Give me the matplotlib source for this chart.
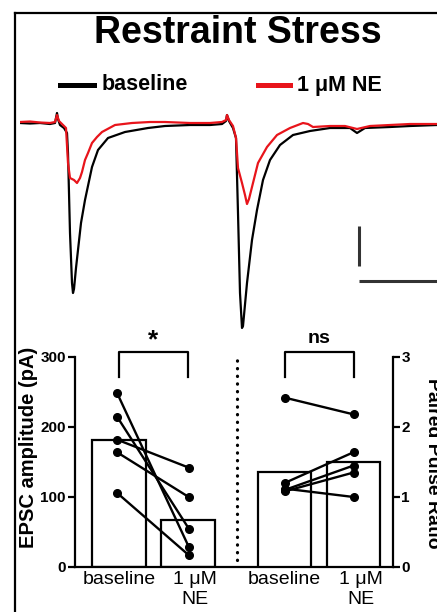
import numpy as np
import matplotlib
matplotlib.use("Agg")
import matplotlib.pyplot as plt
import matplotlib.transforms as mtransforms
from matplotlib.lines import Line2D

plt.rcParams['font.family'] = ['Liberation Sans', 'DejaVu Sans']

# ---- example traces (time in ms, current in pA relative to baseline)
t_base = [0, 2.5, 5, 7.5, 8.75, 9.25, 9.5, 10, 11, 11.75, 12, 12.5, 13, 13.25, 13.5,
          14, 14.5, 15.25, 16.25, 18, 19.5, 22, 26.25, 32, 36.25, 42.5, 47.5, 50.5,
          51.5, 51.75, 52.25, 53.25, 54, 54.5, 55, 55.5, 55.75, 56.75, 58, 59.25,
          60.75, 62.5, 65, 68.25, 72.5, 77.5, 82.5, 84.25, 86.25, 92.5, 97.5, 104.25, 107.5]
i_base = [0, -0.5, 0, -1, 0, 10, 4, -2, -5, -10, -30, -110, -160, -170, -166,
          -145, -127, -100, -77, -44, -27, -15, -9, -5, -3, -2, -2, -1,
          2, 8, 2, -5, -15, -90, -170, -205, -203, -160, -117, -87,
          -57, -37, -22, -12, -8, -5, -5, -10, -5, -4, -3, -2, -2]

t_ne = [0, 2.5, 5, 7.5, 8.75, 9.25, 9.75, 10.5, 11.5, 12, 12.5, 13.5, 14.25, 15,
        15.5, 16.25, 17, 18, 19.25, 20.5, 23.75, 28, 32.5, 36.25, 42.5, 47.5, 50.5,
        51.5, 51.75, 52.25, 53.25, 54, 54.5, 55.5, 56.25, 56.75, 57.25, 58, 59.5,
        61.75, 64.25, 67.5, 70.75, 72, 73.25, 77.5, 81.25, 84.25, 87.5, 92.5, 97.5,
        104.25, 107.5]
i_ne = [1, 1.5, 0.5, 0, 1, 8, 2, -1, -5, -40, -55, -57, -60, -55,
        -49, -37, -30, -20, -14, -9, -2, 0, 1, 1, 0, 0, 1,
        3, 8, 3, -3, -15, -45, -60, -72, -81, -76, -64, -40,
        -24, -12, -5, 0, -1, -4, -3, -3, -6, -3, -2, -1,
        -1, -1]

# scale bar (pA, ms)
sb_t = 84.75
sb_i0 = -103
sb_pa = 40
sb_ms = 25

# ---- summary data
groups = ['baseline', '1 μM\nNE', 'baseline', '1 μM\nNE']
xpos = [0, 1, 2.4, 3.4]
epsc_bar = [182, 67]
epsc_base = [249, 215, 182, 164, 106]
epsc_ne = [29, 55, 142, 100, 17]
ppr_bar = [1.36, 1.50]
ppr_base = [2.42, 1.20, 1.10, 1.08, 1.12]
ppr_ne = [2.18, 1.64, 1.45, 1.35, 1.00]

W, H = 437, 612
fig = plt.figure(figsize=(W / 100, H / 100), dpi=100)


def rect(x0, y0, x1, y1):
    return [x0 / W, 1 - y1 / H, (x1 - x0) / W, (y1 - y0) / H]


# frame
fig.add_artist(Line2D([15 / W, 15 / W], [0, 1 - 13 / H], color='black', lw=1.6))
fig.add_artist(Line2D([15 / W, 1.01], [1 - 13 / H, 1 - 13 / H], color='black', lw=1.6))

fig.text(238 / W, 1 - 33 / H, 'Restraint Stress', ha='center', va='center',
         fontsize=27, fontweight='bold')

# legend
fig.add_artist(Line2D([60 / W, 94 / W], [1 - 85 / H] * 2, color='black', lw=3.6))
fig.text(102 / W, 1 - 85 / H, 'baseline', ha='left', va='center', fontsize=15.5,
         fontweight='bold')
fig.add_artist(Line2D([258 / W, 290 / W], [1 - 85 / H] * 2, color='#e8141b', lw=3.6))
fig.text(297 / W, 1 - 85 / H, '1 μM NE', ha='left', va='center', fontsize=15.5,
         fontweight='bold')

# traces
axt = fig.add_axes(rect(20, 100, 437, 340))
axt.plot(t_base, i_base, color='black', lw=1.6)
axt.plot(t_ne, i_ne, color='#e8141b', lw=1.6)
axt.plot([sb_t, sb_t], [sb_i0, sb_i0 - sb_pa], color='#333333', lw=2.2,
         solid_capstyle='butt')
axt.plot([sb_t, sb_t + sb_ms], [sb_i0 - sb_pa - 15] * 2, color='#333333', lw=2.2,
         solid_capstyle='butt')
axt.set_xlim(0, 104.25)
axt.set_ylim(-217, 23)
axt.axis('off')

# summary bars
ax = fig.add_axes(rect(75, 357, 393, 567))
ax2 = ax.twinx()
bw = 0.77
ax.bar(xpos[:2], epsc_bar, width=bw, color='white', edgecolor='black', lw=1.6, zorder=1)
for a, b in zip(epsc_base, epsc_ne):
    ax.plot([xpos[0] - 0.03, xpos[1] + 0.01], [a, b], color='black', lw=1.7,
            marker='o', ms=5.5, zorder=3)
ax2.bar(xpos[2:], ppr_bar, width=bw, color='white', edgecolor='black', lw=1.6, zorder=1)
for a, b in zip(ppr_base, ppr_ne):
    ax2.plot([xpos[2], xpos[3]], [a, b], color='black', lw=1.7,
             marker='o', ms=5.5, zorder=3)

ax.set_xlim(-0.638, 3.971)
ax.set_ylim(0, 300)
ax2.set_ylim(0, 3)
ax.set_yticks([0, 100, 200, 300])
ax2.set_yticks([0, 1, 2, 3])
ax.set_xticks(xpos)
ax.set_xticklabels(groups)
ax.tick_params(axis='x', length=0, labelsize=14, pad=3)
ax.tick_params(axis='y', length=5, width=1.6, labelsize=11, pad=1.5)
ax2.tick_params(axis='y', length=5, width=1.6, labelsize=11, pad=1)
for lab in ax.get_yticklabels() + ax2.get_yticklabels():
    lab.set_fontweight('bold')
# NE labels sit a little right of the bar centre in the original
shift = mtransforms.ScaledTranslation(7 / 100, 0, fig.dpi_scale_trans)
for lab in ax.get_xticklabels()[1::2]:
    lab.set_transform(lab.get_transform() + shift)

for s in ['top', 'right']:
    ax.spines[s].set_visible(False)
for s in ['top', 'left', 'bottom']:
    ax2.spines[s].set_visible(False)
for s in ['left', 'bottom']:
    ax.spines[s].set_linewidth(1.6)
ax2.spines['right'].set_linewidth(1.6)

ax.set_ylabel('EPSC amplitude (pA)', fontsize=14.5, fontweight='bold')
ax.yaxis.set_label_coords(-0.116, 0.569)
fig.text(424 / W, 1 - 463 / H, 'Paired Pulse Ratio', rotation=-90, ha='left',
         va='center', fontsize=14, fontweight='bold')

# dotted separator
ax.plot([1.71, 1.71], [10, 300], color='black', lw=2.3, ls=(0, (0.1, 2.3)),
        dash_capstyle='round', clip_on=False)

# significance brackets
for x0, x1, txt, fs in [(xpos[0], xpos[1], '*', 19), (xpos[2], xpos[3], 'ns', 14)]:
    ax.plot([x0, x0, x1, x1], [271, 307, 307, 271], color='black', lw=1.6,
            clip_on=False)
    ax.text((x0 + x1) / 2, 324 if txt == '*' else 327, txt, ha='center',
            va='center', fontsize=fs, fontweight='bold')

fig.savefig('out.png', dpi=100)
